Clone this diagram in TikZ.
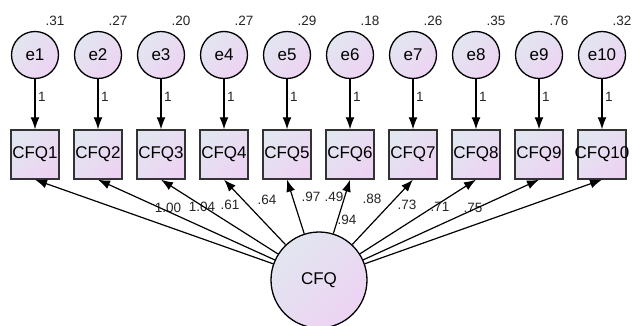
\documentclass[tikz,border=0pt]{standalone}
\usepackage{fontspec}
\setmainfont{Liberation Sans}
\usetikzlibrary{arrows.meta,positioning}
\definecolor{semtop}{HTML}{E2E6F0}
\definecolor{sembot}{HTML}{EDD3F3}
\tikzset{
err_node/.style={
	% The shape:
	circle,
	% The size:
	minimum size=47pt, inner sep=0pt,
	% The border:
	line width=1.3pt,
	draw=black,
	% The filling:
	top color=semtop,
	bottom color=sembot,
	% light blue at the top left, lilac at the bottom right
	shading angle=45,
	% Font
	font=\fontsize{17}{20}\selectfont
},
lat_node/.style={
	err_node,
	minimum size=96pt
},
obs_box/.style={
	% The shape:
	rectangle,
	% The size:
	minimum width=48pt, minimum height=49pt, inner sep=0pt,
	% The border:
	line width=1.4pt,
	draw=black!80,
	% The filling:
	top color=semtop,
	bottom color=sembot,
	shading angle=45,
	% Font
	font=\fontsize{17}{20}\selectfont
},
path_arrow/.style={line width=1.2pt, -{Latex[length=12pt,width=9pt]}},
est_lbl/.style={inner sep=1pt, text=black!85, font=\fontsize{13.5}{15}\selectfont}
}

\begin{document}
\begin{tikzpicture}[x=1pt, y=1pt]
	\useasboundingbox[fill=white] (0,0) rectangle (632,325);
	% latent factor
	\node[lat_node] (cfq) at (319,45) {CFQ};
	% error terms, items and their paths
	\foreach \i/\var in {1/.31, 2/.27, 3/.20, 4/.27, 5/.29, 6/.18, 7/.26, 8/.35, 9/.76, 10/.32} {
		\pgfmathsetmacro\xx{35+63*(\i-1)}
		\node[err_node] (e\i) at (\xx,270) {e\i};
		\node[est_lbl] (v\i) at (\xx+20,304) {\var};
		\node[obs_box] (q\i) at (\xx,170.5) {\makebox[0pt]{CFQ\i}};
		\draw[path_arrow] (e\i) -- node[pos=0.36, right=1.5pt, est_lbl] (one\i) {1} (q\i);
	}
	% factor loadings
	\foreach \i/\ld/\lx/\ly in {1/1.00/168/117, 2/1.04/202/118, 3/.61/230/120,
		4/.64/267/125, 5/.97/311/128, 6/.49/334/128, 7/.94/347/105,
		8/.88/372/126, 9/.73/407/120, 10/.71/440/118} {
		\node[est_lbl] (ld\i) at (\lx,\ly) {\ld};
	}
	\node[est_lbl] (ld11) at (473,117) {.75};
	\foreach \i in {1,...,10}
		\draw[path_arrow] (cfq) -- (q\i.south);
\end{tikzpicture}
\end{document}
